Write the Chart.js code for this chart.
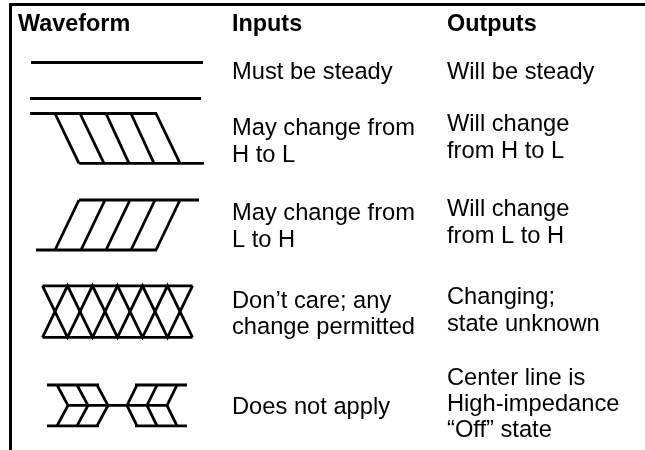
<!DOCTYPE html>
<html>
<head>
<meta charset="utf-8">
<script src="https://cdn.jsdelivr.net/npm/chart.js@4"></script>
<style>
  html, body { margin: 0; padding: 0; background: #fff; }
  #wrap { width: 645px; height: 450px; }
</style>
</head>
<body>
<div id="wrap"><canvas id="myChart" width="645" height="450"></canvas></div>
<script>
// table text
var headers = ['Waveform', 'Inputs', 'Outputs'];
var inputs = [
  ['Must be steady'],
  ['May change from', 'H to L'],
  ['May change from', 'L to H'],
  ['Don\u2019t care; any', 'change permitted'],
  ['Does not apply']
];
var outputs = [
  ['Will be steady'],
  ['Will change', 'from H to L'],
  ['Will change', 'from L to H'],
  ['Changing;', 'state unknown'],
  ['Center line is', 'High-impedance', '\u201cOff\u201d state']
];

// waveforms: each is a list of polylines of [time, level] (level 1 = H, 0 = L, 0.5 = off)
var steady = [
  [[0.04, 1], [6.92, 1]],
  [[0, 0], [6.84, 0]]
];
var highToLow = [
  [[0, 1], [5.08, 1]],
  [[1.96, 0], [6.96, 0]],
  [[1, 1], [1.96, 0]],
  [[2, 1], [2.96, 0]],
  [[3.04, 1], [3.96, 0]],
  [[4.04, 1], [4.96, 0]],
  [[5.04, 1], [6, 0]]
];
var lowToHigh = [
  [[0.24, 0], [5.08, 0]],
  [[1.96, 1], [6.76, 1]],
  [[1, 0], [1.96, 1]],
  [[2.04, 0], [3, 1]],
  [[3.04, 0], [4, 1]],
  [[4.04, 0], [5, 1]],
  [[5.04, 0], [6, 1]]
];
var dontCare = [
  [[0.5, 1], [6.5, 1]],
  [[0.5, 0], [6.5, 0]],
  [[0.5, 1], [1.5, 0], [2.5, 1], [3.5, 0], [4.5, 1], [5.5, 0], [6.5, 1]],
  [[0.5, 0], [1.5, 1], [2.5, 0], [3.5, 1], [4.5, 0], [5.5, 1], [6.5, 0]]
];
var highZ = [
  [[0.68, 1], [2.76, 1]],
  [[0.68, 0], [2.76, 0]],
  [[1.52, 0.5], [5.48, 0.5]],
  [[1.08, 1], [1.52, 0.5], [1.08, 0]],
  [[1.88, 1], [2.32, 0.5], [1.88, 0]],
  [[2.68, 1], [3.12, 0.5], [2.68, 0]],
  [[4.2, 1], [6.28, 1]],
  [[4.2, 0], [6.28, 0]],
  [[4.28, 1], [3.88, 0.5], [4.28, 0]],
  [[5.08, 1], [4.68, 0.5], [5.08, 0]],
  [[5.88, 1], [5.48, 0.5], [5.88, 0]]
];
var waveforms = [steady, highToLow, lowToHigh, dontCare, highZ];

// layout (canvas units)
var waveX0 = 30, waveUnit = 25;
var rowLevels = [[62.5, 98.5], [113.5, 163.3], [200, 250], [285.8, 337.3], [385, 425.8]];
var colX = [18, 232, 447];
var headerY = 30.5;
var inputY = [[78.5], [135, 162], [220, 247], [308, 334], [414]];
var outputY = [[78.5], [131, 158], [216, 243], [304, 331], [385, 411, 437]];

var datasets = [];
waveforms.forEach(function (wf, r) {
  var hi = rowLevels[r][0], lo = rowLevels[r][1];
  wf.forEach(function (poly) {
    datasets.push({
      data: poly.map(function (p) {
        return { x: waveX0 + p[0] * waveUnit, y: lo + (hi - lo) * p[1] };
      }),
      showLine: true,
      borderColor: '#000',
      borderWidth: 2.8,
      borderCapStyle: 'butt',
      borderJoinStyle: 'miter',
      pointRadius: 0,
      tension: 0
    });
  });
});

// frame: top rule and left rule
datasets.push({ data: [{ x: 9, y: 4.5 }, { x: 645, y: 4.5 }], showLine: true, borderColor: '#000', borderWidth: 3, pointRadius: 0, borderCapStyle: 'butt' });
datasets.push({ data: [{ x: 10.5, y: 3 }, { x: 10.5, y: 450 }], showLine: true, borderColor: '#000', borderWidth: 3, pointRadius: 0, borderCapStyle: 'butt' });

var tableText = {
  id: 'tableText',
  afterDatasetsDraw: function (chart) {
    var ctx = chart.ctx;
    var xs = chart.scales.x, ys = chart.scales.y;
    ctx.save();
    ctx.fillStyle = '#000';
    ctx.textBaseline = 'alphabetic';
    ctx.textAlign = 'left';
    ctx.font = 'bold 23.4px "Liberation Sans", Arial, sans-serif';
    headers.forEach(function (h, i) {
      ctx.fillText(h, xs.getPixelForValue(colX[i]), ys.getPixelForValue(headerY));
    });
    ctx.font = '23.7px "Liberation Sans", Arial, sans-serif';
    inputs.forEach(function (lines, r) {
      lines.forEach(function (t, k) {
        ctx.fillText(t, xs.getPixelForValue(colX[1]), ys.getPixelForValue(inputY[r][k]));
      });
    });
    outputs.forEach(function (lines, r) {
      lines.forEach(function (t, k) {
        ctx.fillText(t, xs.getPixelForValue(colX[2]), ys.getPixelForValue(outputY[r][k]));
      });
    });
    ctx.restore();
  }
};

var ctx = document.getElementById('myChart').getContext('2d');
var chart = new Chart(ctx, {
  type: 'scatter',
  data: { datasets: datasets },
  options: {
    responsive: false,
    animation: false,
    devicePixelRatio: 1,
    layout: { padding: 0 },
    plugins: { legend: { display: false }, tooltip: { enabled: false } },
    scales: {
      x: { type: 'linear', min: 0, max: 645, display: false },
      y: { type: 'linear', min: 0, max: 450, reverse: true, display: false }
    }
  },
  plugins: [tableText]
});
</script>
</body>
</html>
